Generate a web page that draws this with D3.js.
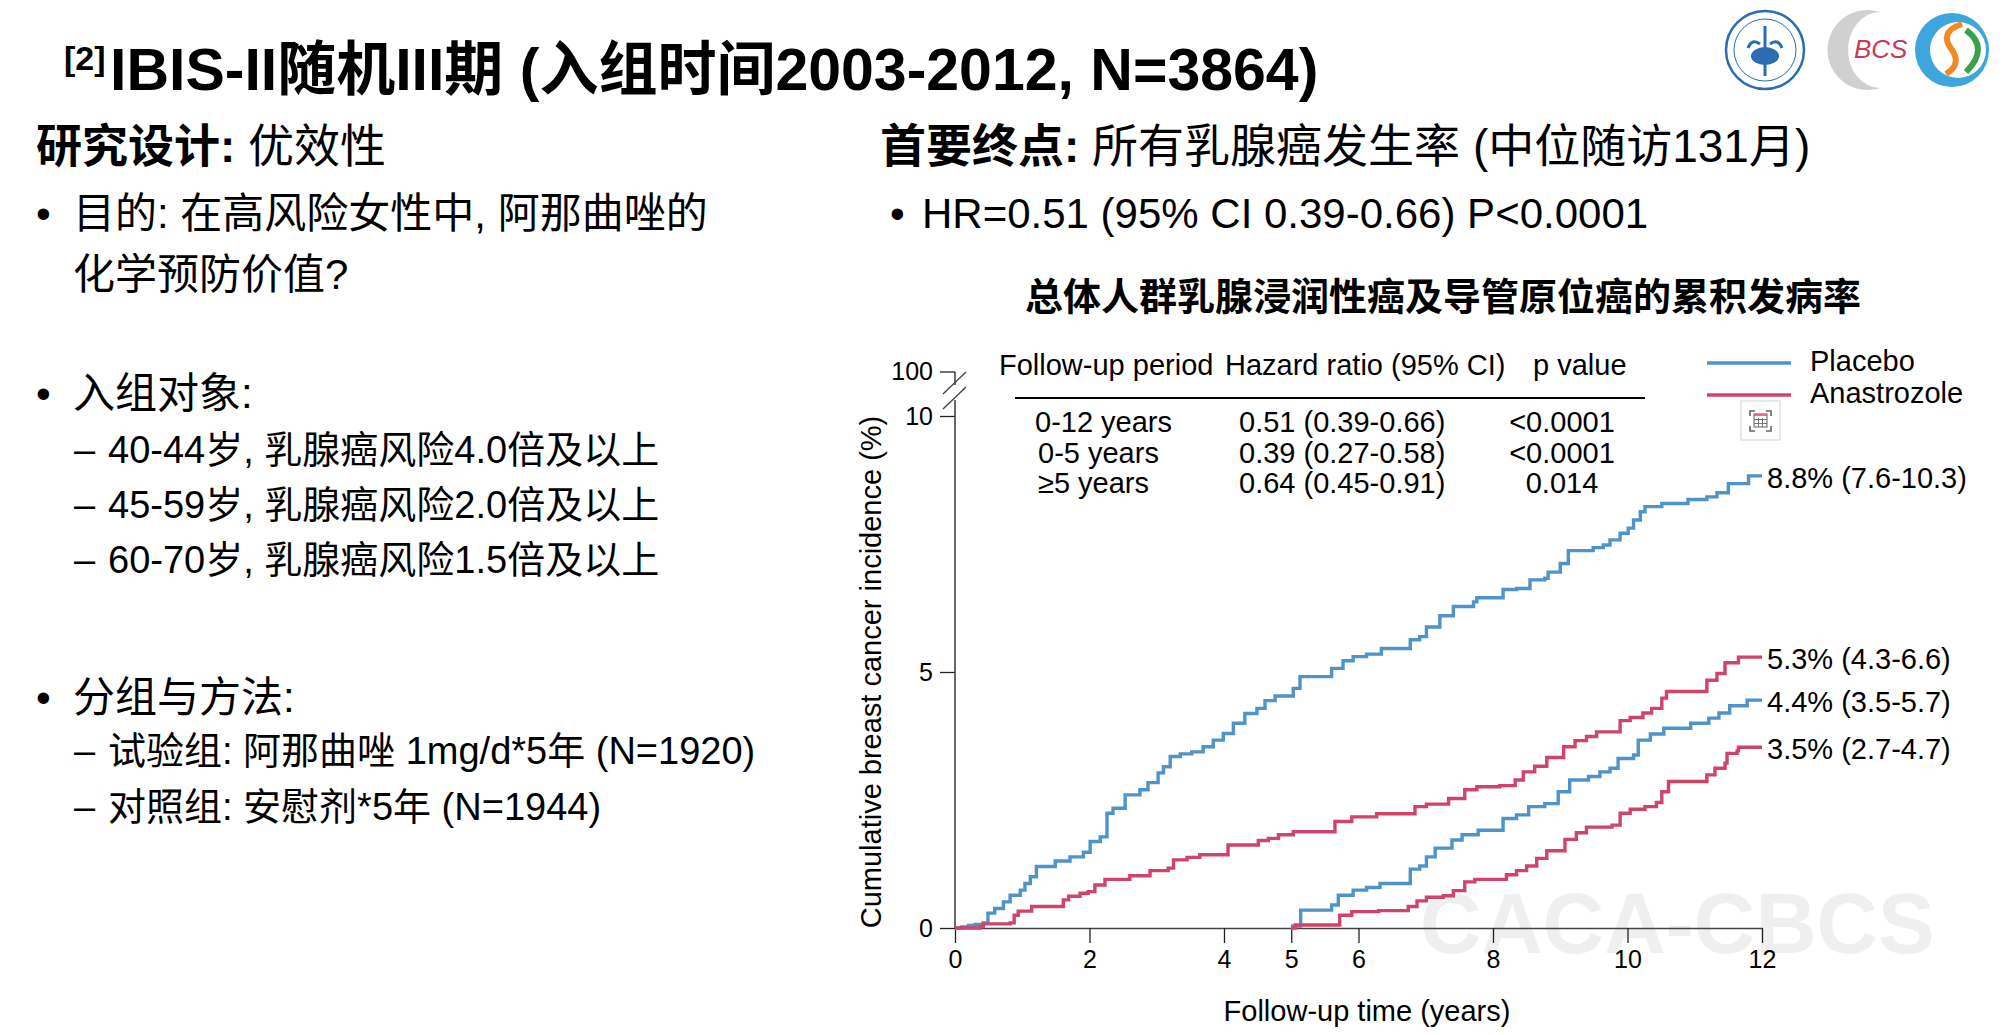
<!DOCTYPE html>
<html>
<head>
<meta charset="utf-8">
<script src="https://cdn.jsdelivr.net/npm/d3@7"></script>
<style>
  body { margin: 0; background: #fff; }
  text { font-family: "Liberation Sans", Arial, "Noto Sans CJK SC", sans-serif; fill: #000; }
</style>
</head>
<body>
<script>
// slide texts
const titleRef = "[2]";
const titleText = "IBIS-II随机III期 (入组时间2003-2012, N=3864)";
const designHead = ["研究设计:", "优效性"];
const aimLines = ["目的: 在高风险女性中, 阿那曲唑的", "化学预防价值?"];
const enrolTitle = "入组对象:";
const enrolItems = ["40-44岁, 乳腺癌风险4.0倍及以上", "45-59岁, 乳腺癌风险2.0倍及以上", "60-70岁, 乳腺癌风险1.5倍及以上"];
const groupTitle = "分组与方法:";
const groupItems = ["试验组: 阿那曲唑 1mg/d*5年 (N=1920)", "对照组: 安慰剂*5年 (N=1944)"];
const endpointHead = ["首要终点:", "所有乳腺癌发生率 (中位随访131月)"];
const hrLine = "HR=0.51 (95% CI 0.39-0.66) P<0.0001";
const chartTitle = "总体人群乳腺浸润性癌及导管原位癌的累积发病率";

// chart texts
const yLabel = "Cumulative breast cancer incidence (%)";
const xLabel = "Follow-up time (years)";
const xTicks = [0, 2, 4, 5, 6, 8, 10, 12];
const yTicks = [0, 5, 10];
const yBreakTick = "100";
const tableHeader = ["Follow-up period", "Hazard ratio (95% CI)", "p value"];
const periods = ["0-12 years", "0-5 years", "≥5 years"];
const hazardRatios = ["0.51 (0.39-0.66)", "0.39 (0.27-0.58)", "0.64 (0.45-0.91)"];
const pValues = ["<0.0001", "<0.0001", "0.014"];
const seriesNames = ["Placebo", "Anastrozole"];
const seriesColors = ["#4f93c9", "#cf4468"];
const endLabels = ["8.8% (7.6-10.3)", "5.3% (4.3-6.6)", "4.4% (3.5-5.7)", "3.5% (2.7-4.7)"];

// cumulative incidence, [years, %]
const placeboAll = [[0,0],[0.1,0.02],[0.2,0.05],[0.3,0.07],[0.42,0.10],[0.49,0.29],[0.59,0.38],[0.72,0.51],[0.82,0.64],[0.97,0.74],[1.04,0.87],[1.12,1.0],[1.21,1.2],[1.49,1.31],[1.71,1.39],[1.91,1.48],[2.01,1.69],[2.16,1.78],[2.26,2.24],[2.35,2.34],[2.53,2.60],[2.75,2.70],[2.87,2.84],[3.02,3.03],[3.10,3.15],[3.20,3.35],[3.35,3.40],[3.52,3.44],[3.69,3.54],[3.84,3.67],[3.99,3.80],[4.14,4.0],[4.31,4.19],[4.49,4.29],[4.61,4.44],[4.76,4.53],[5.03,4.68],[5.13,4.91],[5.60,5.07],[5.77,5.22],[5.92,5.30],[6.12,5.35],[6.34,5.46],[6.77,5.63],[6.91,5.69],[7.01,5.88],[7.21,6.10],[7.41,6.28],[7.71,6.37],[7.76,6.45],[8.15,6.61],[8.35,6.63],[8.55,6.80],[8.77,6.83],[8.82,6.95],[9.0,7.12],[9.12,7.37],[9.49,7.43],[9.64,7.48],[9.74,7.58],[9.89,7.71],[10.01,7.81],[10.09,7.97],[10.19,8.13],[10.26,8.23],[10.51,8.29],[10.90,8.37],[11.18,8.42],[11.33,8.50],[11.50,8.68],[11.80,8.83],[12,8.83]];
const anastrozoleAll = [[0,0],[0.37,0.03],[0.42,0.08],[0.82,0.10],[0.88,0.25],[0.94,0.33],[1.14,0.42],[1.61,0.55],[1.69,0.62],[1.86,0.68],[1.98,0.71],[2.08,0.84],[2.23,0.95],[2.60,1.02],[2.90,1.12],[3.17,1.17],[3.25,1.33],[3.45,1.38],[3.64,1.43],[4.06,1.62],[4.51,1.71],[4.66,1.75],[4.81,1.82],[5.03,1.88],[5.65,2.08],[5.90,2.17],[6.27,2.23],[6.84,2.37],[7.01,2.42],[7.34,2.53],[7.58,2.70],[7.76,2.76],[8.10,2.78],[8.33,2.89],[8.45,3.05],[8.62,3.16],[8.80,3.33],[9.05,3.54],[9.22,3.66],[9.39,3.74],[9.54,3.83],[9.89,4.05],[10.04,4.11],[10.23,4.20],[10.36,4.29],[10.51,4.49],[10.58,4.62],[11.18,4.84],[11.33,4.97],[11.45,5.18],[11.65,5.29],[12,5.29]];
const placeboLate = [[5.0,0],[5.02,0.04],[5.14,0.35],[5.60,0.45],[5.70,0.64],[5.92,0.74],[6.12,0.79],[6.32,0.87],[6.77,1.15],[6.91,1.21],[7.01,1.39],[7.14,1.56],[7.39,1.72],[7.54,1.82],[7.78,1.91],[8.15,2.14],[8.35,2.21],[8.53,2.37],[8.77,2.43],[8.97,2.66],[9.14,2.89],[9.42,2.96],[9.59,3.05],[9.74,3.12],[9.86,3.31],[10.09,3.38],[10.16,3.67],[10.34,3.79],[10.54,3.90],[10.94,4.0],[11.21,4.10],[11.36,4.20],[11.52,4.34],[11.78,4.45],[12,4.45]];
const anastrozoleLate = [[5.0,0],[5.06,0.06],[5.72,0.25],[5.90,0.32],[6.30,0.34],[6.74,0.42],[6.87,0.53],[7.01,0.60],[7.26,0.63],[7.41,0.73],[7.58,0.90],[7.73,0.95],[8.20,1.04],[8.35,1.12],[8.50,1.21],[8.65,1.36],[8.80,1.51],[9.07,1.73],[9.24,1.86],[9.39,1.97],[9.77,2.01],[9.89,2.24],[10.04,2.32],[10.26,2.37],[10.43,2.45],[10.51,2.66],[10.61,2.86],[11.18,2.99],[11.30,3.12],[11.45,3.22],[11.48,3.41],[11.63,3.46],[11.65,3.53],[12,3.53]];

const W = 2003, H = 1035;
const svg = d3.select("body").append("svg")
    .attr("width", W)
    .attr("height", H);

svg.append("rect").attr("width", W).attr("height", H).attr("fill", "#fff");

// ---------- slide title ----------
svg.append("text")
    .attr("x", 64).attr("y", 70)
    .style("font-size", "34px").style("font-weight", "bold")
    .text(titleRef);
svg.append("text")
    .attr("x", 110).attr("y", 90)
    .style("font-size", "59px").style("font-weight", "bold")
    .text(titleText);

// ---------- left column ----------
const head = svg.append("text").attr("x", 36).attr("y", 162).style("font-size", "46px");
head.append("tspan").style("font-weight", "bold").text(designHead[0]);
head.append("tspan").text(" " + designHead[1]);

function bullet(x, y, size) {
    svg.append("text").attr("x", x).attr("y", y).style("font-size", size + "px").text("•");
}
function line(x, y, size, txt) {
    svg.append("text").attr("x", x).attr("y", y).style("font-size", size + "px").text(txt);
}

bullet(36, 228, 42);
line(73, 228, 42, aimLines[0]);
line(73, 289, 42, aimLines[1]);

bullet(36, 408, 42);
line(73, 408, 42, enrolTitle);
enrolItems.forEach((t, i) => {
    line(74, 463 + i * 55, 38, "–");
    line(108, 463 + i * 55, 38, t);
});

bullet(36, 712, 42);
line(73, 712, 42, groupTitle);
groupItems.forEach((t, i) => {
    line(74, 764 + i * 56, 38, "–");
    line(108, 764 + i * 56, 38, t);
});

// ---------- right column ----------
const ep = svg.append("text").attr("x", 880).attr("y", 162).style("font-size", "46px");
ep.append("tspan").style("font-weight", "bold").text(endpointHead[0]);
ep.append("tspan").text(" " + endpointHead[1]);

bullet(890, 228, 42);
line(922, 228, 42, hrLine);

svg.append("text")
    .attr("x", 1443).attr("y", 310)
    .attr("text-anchor", "middle")
    .style("font-size", "38px").style("font-weight", "bold")
    .text(chartTitle);

// ---------- logos (rough) ----------
const logos = svg.append("g");
logos.append("circle").attr("cx", 1765).attr("cy", 50).attr("r", 39)
    .attr("fill", "#fff").attr("stroke", "#2b6cb3").attr("stroke-width", 2.5);
logos.append("circle").attr("cx", 1765).attr("cy", 50).attr("r", 31)
    .attr("fill", "none").attr("stroke", "#2b6cb3").attr("stroke-width", 1);
logos.append("line").attr("x1", 1765).attr("x2", 1765).attr("y1", 26).attr("y2", 76)
    .attr("stroke", "#2b6cb3").attr("stroke-width", 3);
logos.append("ellipse").attr("cx", 1765).attr("cy", 56).attr("rx", 14).attr("ry", 9)
    .attr("fill", "#2b6cb3");
logos.append("path").attr("d", "M1748,48 Q1752,38 1760,44 M1782,48 Q1778,38 1770,44")
    .attr("fill", "none").attr("stroke", "#2b6cb3").attr("stroke-width", 3);

logos.append("path")
    .attr("d", "M1880,12 A40,40 0 1,0 1880,88 A32,38 0 1,1 1880,12 Z")
    .attr("fill", "#d0d0d0");
logos.append("text").attr("x", 1854).attr("y", 58)
    .style("font-size", "26px").style("font-style", "italic")
    .style("fill", "#c8385a").text("BCS");

logos.append("circle").attr("cx", 1952).attr("cy", 50).attr("r", 37)
    .attr("fill", "#3ea6dc");
logos.append("circle").attr("cx", 1958).attr("cy", 50).attr("r", 28)
    .attr("fill", "#fff");
logos.append("path").attr("d", "M1962,24 Q1938,32 1952,50 Q1962,64 1946,74")
    .attr("fill", "none").attr("stroke", "#f08a24").attr("stroke-width", 6);
logos.append("path").attr("d", "M1966,30 Q1990,48 1966,72")
    .attr("fill", "none").attr("stroke", "#3aa04a").attr("stroke-width", 6);

// ---------- chart ----------
const x = d3.scaleLinear().domain([0, 12]).range([955, 1762]);
const y = d3.scaleLinear().domain([0, 10]).range([928, 416]);

// watermark
svg.append("text")
    .attr("x", 1420).attr("y", 953)
    .style("font-size", "85px").style("font-weight", "bold")
    .style("fill", "#efefef")
    .text("CACA-CBCS");

const chart = svg.append("g");

// x axis
const xAxis = chart.append("g")
    .attr("transform", `translate(0,${y(0)})`)
    .call(d3.axisBottom(x).tickValues(xTicks).tickSize(15).tickPadding(7).tickSizeOuter(0));
xAxis.select(".domain").attr("stroke", "#444").attr("stroke-width", 1.6);
xAxis.selectAll(".tick line").attr("stroke", "#222").attr("stroke-width", 1.3);
xAxis.selectAll(".tick text").style("font-size", "25px").style("font-family", null).attr("fill", "#000");

// y axis with a break up to 100
const yAxis = chart.append("g")
    .attr("transform", `translate(${x(0)},0)`)
    .call(d3.axisLeft(y).tickValues(yTicks).tickSize(15).tickPadding(7).tickSizeOuter(0));
yAxis.select(".domain").remove();
yAxis.selectAll(".tick line").attr("stroke", "#222").attr("stroke-width", 1.3);
yAxis.selectAll(".tick text").style("font-size", "25px").style("font-family", null).attr("fill", "#000");

const yTop = y(10) - 44;
yAxis.append("line").attr("x1", 0).attr("x2", 0).attr("y1", y(0)).attr("y2", y(10) - 16)
    .attr("stroke", "#444").attr("stroke-width", 1.6);
yAxis.append("line").attr("x1", 0).attr("x2", 0).attr("y1", yTop).attr("y2", yTop + 13)
    .attr("stroke", "#444").attr("stroke-width", 1.6);
yAxis.append("line").attr("x1", -15).attr("x2", 0).attr("y1", yTop).attr("y2", yTop)
    .attr("stroke", "#222").attr("stroke-width", 1.3);
yAxis.append("text").attr("x", -22).attr("y", yTop).attr("dy", "0.32em")
    .attr("text-anchor", "end").style("font-size", "25px").text(yBreakTick);
[yTop + 11, yTop + 26].forEach(cy => {
    yAxis.append("line").attr("x1", -12).attr("x2", 11).attr("y1", cy + 11).attr("y2", cy - 11)
        .attr("stroke", "#444").attr("stroke-width", 1.4);
});

// axis titles
chart.append("text")
    .attr("transform", `translate(881,${(y(0) + y(10)) / 2}) rotate(-90)`)
    .attr("text-anchor", "middle")
    .style("font-size", "29px")
    .text(yLabel);
chart.append("text")
    .attr("x", 1367).attr("y", 1021)
    .attr("text-anchor", "middle")
    .style("font-size", "29px")
    .text(xLabel);

// curves
const stepLine = d3.line()
    .x(d => x(d[0]))
    .y(d => y(d[1]))
    .curve(d3.curveStepAfter);

const curves = [
    { data: placeboAll, color: seriesColors[0], label: endLabels[0] },
    { data: anastrozoleAll, color: seriesColors[1], label: endLabels[1] },
    { data: placeboLate, color: seriesColors[0], label: endLabels[2] },
    { data: anastrozoleLate, color: seriesColors[1], label: endLabels[3] }
];

curves.forEach(c => {
    chart.append("path")
        .datum(c.data)
        .attr("d", stepLine)
        .attr("fill", "none")
        .attr("stroke", c.color)
        .attr("stroke-width", 3.4)
        .attr("stroke-linejoin", "miter");
    const last = c.data[c.data.length - 1];
    chart.append("text")
        .attr("x", x(last[0]) + 5)
        .attr("y", y(last[1]) + 12)
        .style("font-size", "29px")
        .text(c.label);
});

// hazard ratio table
const table = chart.append("g");
const colX = [999, 1225, 1533];
tableHeader.forEach((h, i) => {
    table.append("text").attr("x", colX[i]).attr("y", 375).style("font-size", "29px").text(h);
});
table.append("line").attr("x1", 1015).attr("x2", 1645).attr("y1", 398).attr("y2", 398)
    .attr("stroke", "#000").attr("stroke-width", 2.2);
periods.forEach((p, i) => {
    const ry = 432 + i * 30.5;
    table.append("text").attr("x", i === 0 ? 1035 : 1038).attr("y", ry).style("font-size", "29px").text(p);
    table.append("text").attr("x", 1239).attr("y", ry).style("font-size", "29px").text(hazardRatios[i]);
    table.append("text").attr("x", 1562).attr("y", ry).attr("text-anchor", "middle")
        .style("font-size", "29px").text(pValues[i]);
});

// legend
const legend = chart.append("g");
seriesNames.forEach((n, i) => {
    const ly = 363 + i * 32;
    legend.append("line").attr("x1", 1707).attr("x2", 1791).attr("y1", ly).attr("y2", ly)
        .attr("stroke", seriesColors[i]).attr("stroke-width", 3.4);
    legend.append("text").attr("x", 1810).attr("y", ly + 8).style("font-size", "29px").text(n);
});

// small screenshot icon left in the slide
const icon = chart.append("g").attr("transform", "translate(1741,401)");
icon.append("rect").attr("width", 39).attr("height", 39).attr("fill", "#fff")
    .attr("stroke", "#e2e2e2").attr("stroke-width", 1.5);
icon.append("path").attr("d", "M9,15 V10 H14 M25,10 H30 V15 M30,25 V30 H25 M14,30 H9 V25")
    .attr("fill", "none").attr("stroke", "#666").attr("stroke-width", 1.6);
icon.append("rect").attr("x", 13).attr("y", 13).attr("width", 13).attr("height", 13)
    .attr("fill", "none").attr("stroke", "#777").attr("stroke-width", 1.2);
icon.append("line").attr("x1", 13).attr("x2", 26).attr("y1", 14).attr("y2", 14)
    .attr("stroke", "#e05a6a").attr("stroke-width", 1.6);
icon.append("path").attr("d", "M13,18.5 H26 M13,22.5 H26 M17.5,17 V26 M21.5,17 V26")
    .attr("stroke", "#777").attr("stroke-width", 1);
</script>
</body>
</html>
